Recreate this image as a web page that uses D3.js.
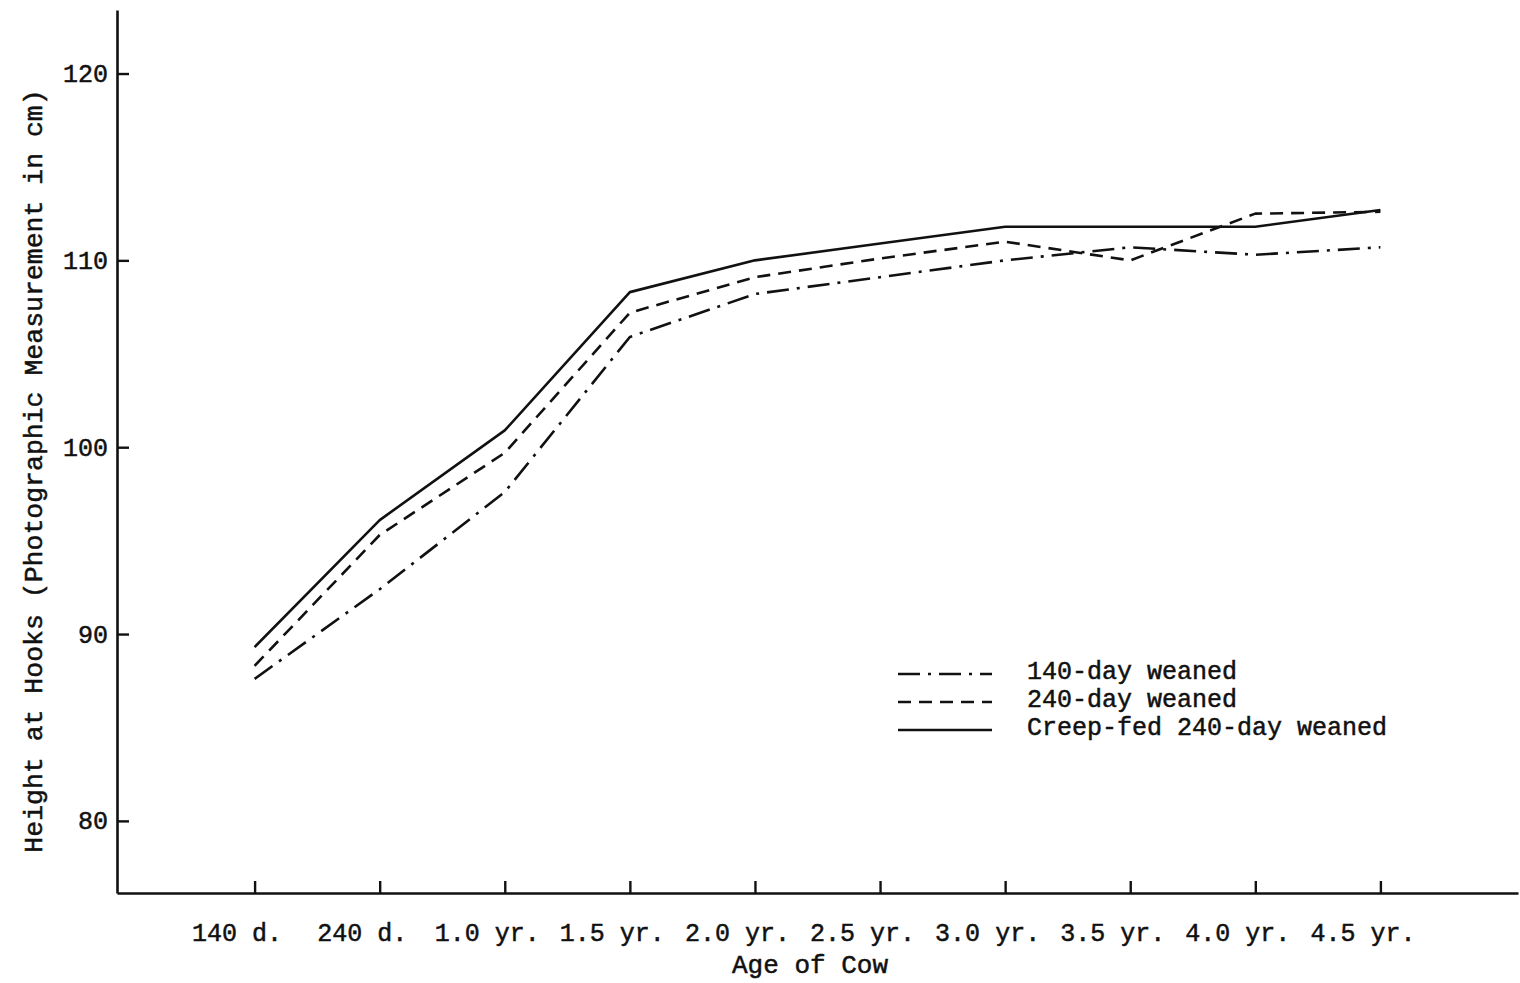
<!DOCTYPE html>
<html>
<head>
<meta charset="utf-8">
<script src="https://cdn.jsdelivr.net/npm/d3@7"></script>
<style>
  html, body { margin: 0; padding: 0; background: #fff; }
  svg { display: block; }
  text { font-family: "Liberation Mono", "DejaVu Sans Mono", monospace; fill: #111; }
</style>
</head>
<body>
<svg id="chart" width="1520" height="983"></svg>
<script>
// Age classes along the horizontal axis
const ages = ["140 d.", "240 d.", "1.0 yr.", "1.5 yr.", "2.0 yr.", "2.5 yr.",
              "3.0 yr.", "3.5 yr.", "4.0 yr.", "4.5 yr."];

// Height at hooks (cm) for each weaning treatment
const weaned140 = [87.6, 92.4, 97.6, 105.9, 108.2, 109.1, 110.0, 110.7, 110.3, 110.7];
const weaned240 = [88.3, 95.3, 99.7, 107.2, 109.1, 110.1, 111.0, 110.0, 112.5, 112.6];
const creepFed240 = [89.3, 96.1, 100.9, 108.3, 110.0, 110.9, 111.8, 111.8, 111.8, 112.7];

const seriesNames = ["140-day weaned", "240-day weaned", "Creep-fed 240-day weaned"];
const yTicks = [80, 90, 100, 110, 120];

const series = [
  { name: seriesNames[0], values: weaned140, dash: "22,8,3,8" },
  { name: seriesNames[1], values: weaned240, dash: "13,8" },
  { name: seriesNames[2], values: creepFed240, dash: null }
];

const svg = d3.select("#chart");
const plotLeft = 117, plotRight = 1518, plotTop = 10, plotBottom = 893;

const x = d3.scalePoint().domain(ages).range([plotLeft, plotRight]).padding(1.1);
const y = d3.scaleLinear().domain([76.14, 123.4]).range([plotBottom, plotTop]);

const ink = "#111";

// Horizontal axis with short upward ticks
const xAxis = svg.append("g")
  .attr("transform", `translate(0,${plotBottom})`)
  .call(d3.axisBottom(x).tickSizeInner(-12).tickSizeOuter(0).tickPadding(30));
xAxis.select(".domain").attr("stroke", ink).attr("stroke-width", 2.6);
xAxis.selectAll(".tick line").attr("stroke", ink).attr("stroke-width", 2.4);
xAxis.selectAll(".tick text")
  .attr("dx", -18)
  .style("font-size", "25px")
  .style("font-family", "'Liberation Mono', monospace")
  .attr("fill", ink).attr("stroke", ink).attr("stroke-width", 0.5);

// Vertical axis with short rightward ticks
const yAxis = svg.append("g")
  .attr("transform", `translate(${plotLeft},0)`)
  .call(d3.axisLeft(y).tickValues(yTicks).tickSizeInner(-12).tickSizeOuter(0).tickPadding(9));
yAxis.select(".domain").attr("stroke", ink).attr("stroke-width", 2.6);
yAxis.selectAll(".tick line").attr("stroke", ink).attr("stroke-width", 2.4);
yAxis.selectAll(".tick text")
  .style("font-size", "25px")
  .style("font-family", "'Liberation Mono', monospace")
  .attr("fill", ink).attr("stroke", ink).attr("stroke-width", 0.5);

// Axis titles
svg.append("text")
  .attr("x", 810).attr("y", 973)
  .attr("text-anchor", "middle")
  .style("font-size", "26px")
  .attr("stroke", ink).attr("stroke-width", 0.5)
  .text("Age of Cow");

svg.append("text")
  .attr("transform", "translate(42,471) rotate(-90)")
  .attr("text-anchor", "middle")
  .style("font-size", "26.5px")
  .attr("stroke", ink).attr("stroke-width", 0.5)
  .text("Height at Hooks (Photographic Measurement in cm)");

// Growth curves
const line = d3.line()
  .x((d, i) => x(ages[i]))
  .y(d => y(d));

svg.append("g").selectAll("path")
  .data(series)
  .join("path")
  .attr("d", d => line(d.values))
  .attr("fill", "none")
  .attr("stroke", ink)
  .attr("stroke-width", 2.6)
  .attr("stroke-linejoin", "round")
  .attr("stroke-dasharray", d => d.dash);

// Legend
const legend = svg.append("g");
const rowBase = [679, 707, 735];
series.forEach((s, i) => {
  legend.append("line")
    .attr("x1", 898).attr("x2", 992)
    .attr("y1", rowBase[i] - 5).attr("y2", rowBase[i] - 5)
    .attr("stroke", ink).attr("stroke-width", 2.4)
    .attr("stroke-dasharray", s.dash);
  legend.append("text")
    .attr("x", 1027).attr("y", rowBase[i])
    .style("font-size", "25px")
    .attr("stroke", ink).attr("stroke-width", 0.5)
    .text(s.name);
});
</script>
</body>
</html>
